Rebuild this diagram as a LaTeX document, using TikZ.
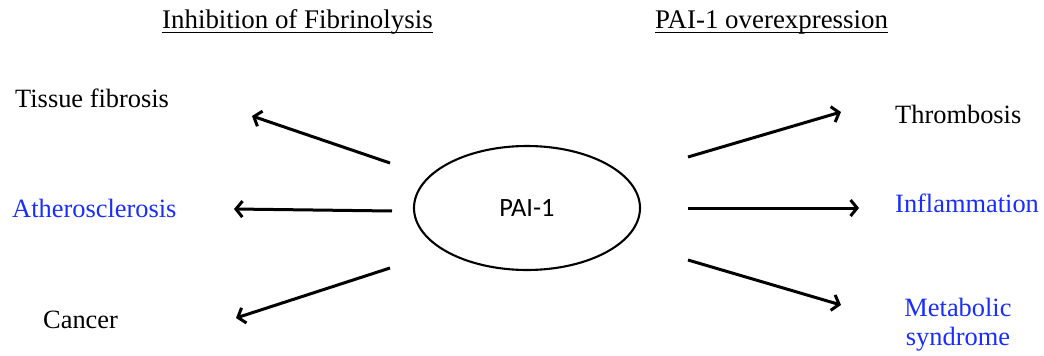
\documentclass[tikz,border=0pt]{standalone}
\usepackage{fontspec}
\setmainfont{Liberation Serif}
\newfontfamily\labelsans{Carlito}
\usetikzlibrary{arrows.meta,shapes.geometric}
\definecolor{linkblue}{RGB}{25,45,255}
\tikzset{
  lbl/.style={inner sep=0pt, anchor=base west, font=\fontsize{26.4}{30}\selectfont},
  heading/.style={lbl, font=\fontsize{26.9}{30}\selectfont},
  blue lbl/.style={lbl, text=linkblue},
  effect/.style={line width=3pt, -{Straight Barb[length=6.5pt,width=16pt]}},
  heading rule/.style={line width=1.4pt},
}
\begin{document}
\begin{tikzpicture}[x=1pt,y=-1pt]
\useasboundingbox (0,0) rectangle (1044,356);

% headings
\node[heading] (hleft) at (162,28) {Inhibition of Fibrinolysis};
\node[heading] (hright) at (655,28) {PAI-1 overexpression};
\draw[heading rule] ([yshift=-4.5pt]hleft.base west) -- ([yshift=-4.5pt]hleft.base east);
\draw[heading rule] ([yshift=-4.5pt]hright.base west) -- ([yshift=-4.5pt]hright.base east);

% central node
\node[draw, ellipse, line width=2.1pt, minimum width=226pt, minimum height=124pt, inner sep=0pt,
      font=\labelsans\fontsize{26.4}{30}\selectfont] (pai) at (527,208) {PAI-1};

% outcomes
\node[lbl] (fib) at (15,107) {Tissue fibrosis};
\node[blue lbl] (ath) at (12,217) {Atherosclerosis};
\node[lbl] (can) at (43,328) {Cancer};
\node[lbl] (thr) at (895,123) {Thrombosis};
\node[blue lbl] (inf) at (895,212) {Inflammation};
\node[blue lbl, align=center, anchor=base] (met) at (958,345)
  {Metabolic\\[-1pt]syndrome};

% arrow end points
\coordinate (l1s) at (390,163); \coordinate (l1e) at (252,116);
\coordinate (l2s) at (392,211); \coordinate (l2e) at (234,209);
\coordinate (l3s) at (390,268); \coordinate (l3e) at (236,318);
\coordinate (r1s) at (688,157); \coordinate (r1e) at (841,112);
\coordinate (r2s) at (688,208); \coordinate (r2e) at (859,208);
\coordinate (r3s) at (688,260); \coordinate (r3e) at (841,305);

\draw[effect] (l1s) -- (l1e);
\draw[effect] (l2s) -- (l2e);
\draw[effect] (l3s) -- (l3e);
\draw[effect] (r1s) -- (r1e);
\draw[effect] (r2s) -- (r2e);
\draw[effect] (r3s) -- (r3e);
\end{tikzpicture}
\end{document}
